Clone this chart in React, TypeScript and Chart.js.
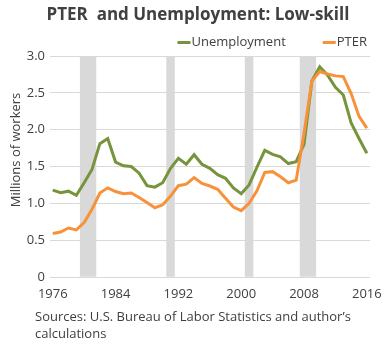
import React, { useEffect, useRef } from "react";
import { Chart, registerables } from "chart.js";

Chart.register(...registerables);

const FONT = "'Open Sans', 'Noto Sans', sans-serif";

const TITLE = "PTER  and Unemployment: Low-skill";
const Y_TITLE = "Millions of workers";
const SOURCE_LINES = ["Sources: U.S. Bureau of Labor Statistics and author\u2019s", "calculations"];

const years: number[] = [
  1976, 1977, 1978, 1979, 1980, 1981, 1982, 1983, 1984, 1985, 1986, 1987, 1988, 1989,
  1990, 1991, 1992, 1993, 1994, 1995, 1996, 1997, 1998, 1999, 2000, 2001, 2002, 2003,
  2004, 2005, 2006, 2007, 2008, 2009, 2010, 2011, 2012, 2013, 2014, 2015, 2016,
];

const unemployment: number[] = [
  1.18, 1.145, 1.165, 1.11, 1.28, 1.46, 1.81, 1.88, 1.56, 1.51, 1.5, 1.41, 1.24, 1.22,
  1.28, 1.475, 1.61, 1.53, 1.66, 1.53, 1.475, 1.39, 1.34, 1.21, 1.13, 1.25, 1.49, 1.72,
  1.665, 1.63, 1.54, 1.565, 1.8, 2.66, 2.855, 2.74, 2.575, 2.47, 2.09, 1.88, 1.68,
];

const pter: number[] = [
  0.59, 0.61, 0.665, 0.64, 0.74, 0.92, 1.14, 1.21, 1.16, 1.13, 1.14, 1.08, 1.01, 0.94,
  0.98, 1.1, 1.24, 1.26, 1.35, 1.27, 1.235, 1.19, 1.07, 0.95, 0.9, 1.0, 1.17, 1.42,
  1.43, 1.36, 1.28, 1.315, 1.95, 2.66, 2.79, 2.755, 2.73, 2.72, 2.49, 2.18, 2.02,
];

const recessionYears: number[] = [1980, 1981, 1991, 2001, 2008, 2009];

const xTickYears: number[] = [1976, 1984, 1992, 2000, 2008, 2016];
const yTicks: number[] = [0, 0.5, 1, 1.5, 2, 2.5, 3];

const GREEN = "#77933C";
const ORANGE = "#F7923A";
const GREY = "#D9D9D9";
const TEXT = "#404040";

const textPlugin = {
  id: "customText",
  afterDraw(chart: any) {
    const ctx = chart.ctx as CanvasRenderingContext2D;
    ctx.save();
    // Title
    ctx.fillStyle = TEXT;
    ctx.font = `bold 17px ${FONT}`;
    ctx.textAlign = "center";
    ctx.textBaseline = "middle";
    ctx.fillText(TITLE, 198, 15);

    // Legend (right aligned)
    ctx.font = `13px ${FONT}`;
    ctx.textAlign = "left";
    const items = chart.data.datasets.filter((d: any) => d.type !== "bar");
    const markerW = 13;
    const gap = 1;
    const itemGap = 37;
    let x = 367;
    const layout: { x: number; ds: any }[] = [];
    for (let i = items.length - 1; i >= 0; i--) {
      const w = ctx.measureText(items[i].label).width;
      x -= w + gap + markerW;
      layout.unshift({ x, ds: items[i] });
      x -= itemGap;
    }
    for (const it of layout) {
      ctx.fillStyle = it.ds.borderColor;
      ctx.fillRect(it.x, 41, markerW, 3);
      ctx.fillStyle = TEXT;
      ctx.fillText(it.ds.label, it.x + markerW + gap, 42);
    }

    // Y axis title
    ctx.save();
    ctx.translate(16, 150);
    ctx.rotate(-Math.PI / 2);
    ctx.textAlign = "center";
    ctx.font = `13px ${FONT}`;
    ctx.fillText(Y_TITLE, 0, 0);
    ctx.restore();

    // Sources
    ctx.font = `13px ${FONT}`;
    ctx.textAlign = "left";
    SOURCE_LINES.forEach((line, i) => ctx.fillText(line, 35, 317 + i * 17));
    ctx.restore();
  },
};

export default function App() {
  const ref = useRef<HTMLCanvasElement | null>(null);

  useEffect(() => {
    document.body.style.margin = "0";
    const canvas = ref.current;
    if (!canvas) return;
    const chart = new Chart(canvas, {
      type: "line",
      data: {
        datasets: [
          {
            type: "line",
            label: "Unemployment",
            data: years.map((y, i) => ({ x: y, y: unemployment[i] })),
            borderColor: GREEN,
            backgroundColor: GREEN,
            borderWidth: 3,
            pointRadius: 0,
            tension: 0,
            order: 1,
          },
          {
            type: "line",
            label: "PTER",
            data: years.map((y, i) => ({ x: y, y: pter[i] })),
            borderColor: ORANGE,
            backgroundColor: ORANGE,
            borderWidth: 3,
            pointRadius: 0,
            tension: 0,
            order: 0,
          },
          {
            type: "bar",
            label: "Recession",
            data: recessionYears.map((y) => ({ x: y, y: 3 })),
            backgroundColor: GREY,
            borderWidth: 0,
            barPercentage: 1,
            categoryPercentage: 1,
            order: 10,
          } as any,
        ],
      },
      options: {
        animation: false,
        responsive: true,
        maintainAspectRatio: false,
        layout: { padding: { top: 56, right: 17, bottom: 29, left: 0 } },
        plugins: {
          legend: { display: false },
          title: { display: false },
          tooltip: { enabled: false },
        },
        scales: {
          x: {
            type: "linear",
            min: 1975.65,
            max: 2016.4,
            offset: false,
            grid: { display: false, offset: false },
            border: { display: false },
            afterBuildTicks: (axis: any) => {
              axis.ticks = xTickYears.map((v) => ({ value: v }));
            },
            afterFit: (scale: any) => {
              scale.height = 40;
            },
            ticks: {
              autoSkip: false,
              maxRotation: 0,
              padding: 1,
              color: TEXT,
              font: { family: FONT, size: 13 },
              callback: (v: any) => String(v),
            },
          },
          y: {
            min: 0,
            max: 3,
            grid: { color: GREY, lineWidth: 1, drawTicks: false },
            border: { display: false },
            afterBuildTicks: (axis: any) => {
              axis.ticks = yTicks.map((v) => ({ value: v }));
            },
            afterFit: (scale: any) => {
              scale.width = 50;
            },
            ticks: {
              padding: 5,
              color: TEXT,
              font: { family: FONT, size: 13 },
              callback: (v: any) => (v === 0 ? "0" : Number(v).toFixed(1)),
            },
          },
        },
      },
      plugins: [textPlugin],
    });
    return () => chart.destroy();
  }, []);

  return (
    <div style={{ width: 387, height: 346, position: "relative" }}>
      <canvas ref={ref} />
    </div>
  );
}
